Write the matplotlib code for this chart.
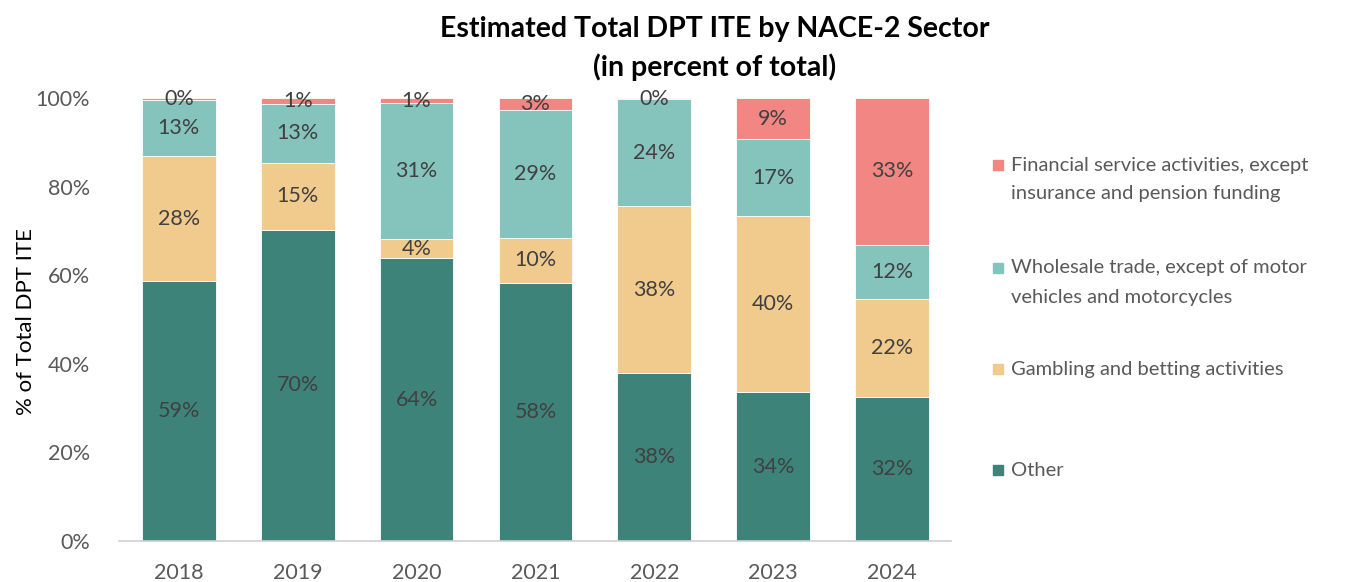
import numpy as np
import matplotlib
matplotlib.use('Agg')
import matplotlib.pyplot as plt
from matplotlib.patches import Rectangle

plt.rcParams['font.family'] = ['Lato', 'DejaVu Sans']

years = ['2018', '2019', '2020', '2021', '2022', '2023', '2024']

# shares in percent, bottom to top
other = [58.8, 70.3, 63.8, 58.2, 37.9, 33.6, 32.5]
gambling = [28.0, 15.1, 4.4, 10.3, 37.7, 39.7, 22.1]
wholesale = [12.8, 13.2, 30.6, 28.9, 24.1, 17.4, 12.3]
financial = [0.4, 1.4, 1.2, 2.6, 0.3, 9.3, 33.1]

series_names = ['Other',
                'Gambling and betting activities',
                'Wholesale trade, except of motor\nvehicles and motorcycles',
                'Financial service activities, except\ninsurance and pension funding']
series_colors = ['#3E837A', '#F1CA8E', '#85C4BC', '#F18682']


def plot_figure():
    fig = plt.figure(figsize=(13.45, 5.82), dpi=100)
    ax = fig.add_axes([0.0888, 0.0704, 0.6186, 0.7612])

    x = np.arange(len(years))
    bottom = np.zeros(len(years))
    for vals, color in zip([other, gambling, wholesale, financial], series_colors):
        vals = np.array(vals)
        ax.bar(x, vals, width=0.62, bottom=bottom, color=color,
               edgecolor='white', linewidth=0.6)
        for xi, b, v in zip(x, bottom, vals):
            ax.text(xi, b + v / 2, f'{v:.0f}%', ha='center', va='center',
                    fontsize=15.5, color='#404040')
        bottom += vals

    ax.set_xlim(-0.5, len(years) - 0.5)
    ax.set_ylim(0, 100)
    ax.set_xticks(x)
    ax.set_xticklabels(years)
    ax.set_yticks(np.arange(0, 101, 20))
    ax.set_yticklabels([f'{t}%' for t in range(0, 101, 20)])
    ax.tick_params(axis='both', length=0, labelsize=15.5, colors='#595959')
    ax.tick_params(axis='y', pad=21)
    ax.tick_params(axis='x', pad=16)
    for side in ['top', 'right', 'left']:
        ax.spines[side].set_visible(False)
    ax.spines['bottom'].set_color('#D0D0D0')
    ax.spines['bottom'].set_linewidth(1.2)

    fig.text(26 / 1345, 1 - 322 / 582, '% of Total DPT ITE', rotation=90,
             ha='center', va='center', fontsize=16, color='black')

    fig.text(0.5316, 1 - 29 / 582, 'Estimated Total DPT ITE by NACE-2 Sector',
             ha='center', va='center', fontsize=20.5, fontweight='bold')
    fig.text(0.5316, 1 - 67 / 582, '(in percent of total)',
             ha='center', va='center', fontsize=20.5, fontweight='bold')

    # legend drawn by hand, top entry first
    first_line_y = [165, 268, 369, 470]
    for name, color, ly in zip(series_names[::-1], series_colors[::-1], first_line_y):
        yf = 1 - ly / 582
        fig.patches.append(Rectangle((993 / 1345, yf - 5 / 582), 10 / 1345, 10 / 582,
                                     transform=fig.transFigure, color=color))
        for i, line in enumerate(name.split('\n')):
            fig.text(1011 / 1345, 1 - (ly + 29 * i) / 582, line, ha='left', va='center',
                     fontsize=14.5, color='#595959')

    plt.savefig('out.png', dpi=100)


if __name__ == '__main__':
    plot_figure()
